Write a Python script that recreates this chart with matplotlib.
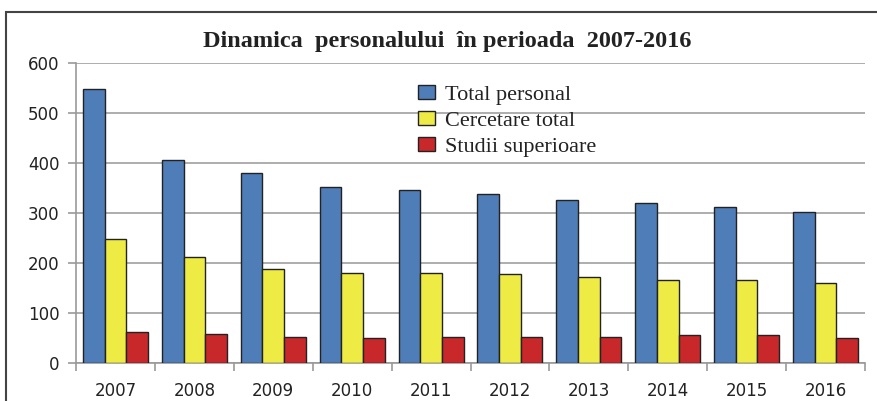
import matplotlib
matplotlib.use("Agg")
import matplotlib.pyplot as plt
import numpy as np
from matplotlib.patches import Rectangle, Patch

years = ["2007", "2008", "2009", "2010", "2011", "2012", "2013", "2014", "2015", "2016"]
total_personal = [548, 407, 380, 353, 347, 338, 326, 320, 312, 303]
cercetare_total = [248, 212, 188, 181, 181, 178, 173, 167, 167, 161]
studii_superioare = [62, 59, 53, 50, 53, 53, 53, 56, 56, 51]
series_names = ["Total personal", "Cercetare total", "Studii superioare"]
colors = ["#4f7db8", "#eeeb45", "#c9282a"]
title = "Dinamica  personalului  în perioada  2007-2016"

W, H = 877, 401
fig = plt.figure(figsize=(W / 100, H / 100), dpi=100)
ax = fig.add_axes([76 / W, 1 - 363 / H, (865 - 76) / W, 300 / H])

x = np.arange(len(years))
bw = 0.275
for i, (vals, c) in enumerate(zip([total_personal, cercetare_total, studii_superioare], colors)):
    ax.bar(x + (i - 1) * bw, vals, width=bw, color=c, edgecolor="#222222", linewidth=1.0, zorder=3)

ax.set_xlim(-0.5, len(years) - 0.5)
ax.set_ylim(0, 600)
ax.set_yticks(range(0, 601, 100))
ax.yaxis.grid(True, color="#a0a0a0", linewidth=1.2, zorder=0)
ax.set_axisbelow(True)
for s in ["top", "right"]:
    ax.spines[s].set_visible(False)
for s in ["left", "bottom"]:
    ax.spines[s].set_color("#999999")
    ax.spines[s].set_linewidth(1.2)

ax.set_xticks(x)
ax.set_xticklabels(years)
ax.set_xticks(np.arange(-0.5, len(years), 1.0), minor=True)
ax.tick_params(axis="x", which="major", length=0, pad=14, labelsize=12, labelcolor="#222222")
ax.tick_params(axis="x", which="minor", length=6, width=1.2, color="#999999", direction="out")
ax.tick_params(axis="y", length=6, width=1.2, color="#999999", labelsize=12, labelcolor="#222222", pad=6)
for lab in ax.get_xticklabels() + ax.get_yticklabels():
    lab.set_fontfamily("DejaVu Sans")

fig.text(447 / W, 1 - 42 / H, title, ha="center", va="center",
         fontfamily="Liberation Serif", fontweight="bold", fontsize=17.5, color="#222222")

handles = [Patch(facecolor=c, edgecolor="#222222", linewidth=1.0) for c in colors]
leg = fig.legend(handles, series_names, loc="upper left", bbox_to_anchor=(418 / W, 1 - 85 / H),
                 frameon=False, prop={"family": "Liberation Serif", "size": 16},
                 handlelength=0.75, handleheight=0.6, handletextpad=0.45, labelspacing=0.28,
                 borderpad=0, borderaxespad=0)
for t in leg.get_texts():
    t.set_color("#222222")

fig.patches.append(Rectangle((6 / W, -0.05), 1.0, 1 - 12 / H + 0.05, transform=fig.transFigure,
                             fill=False, edgecolor="#444444", linewidth=1.5))

fig.savefig("out.png", dpi=100, facecolor="white")
